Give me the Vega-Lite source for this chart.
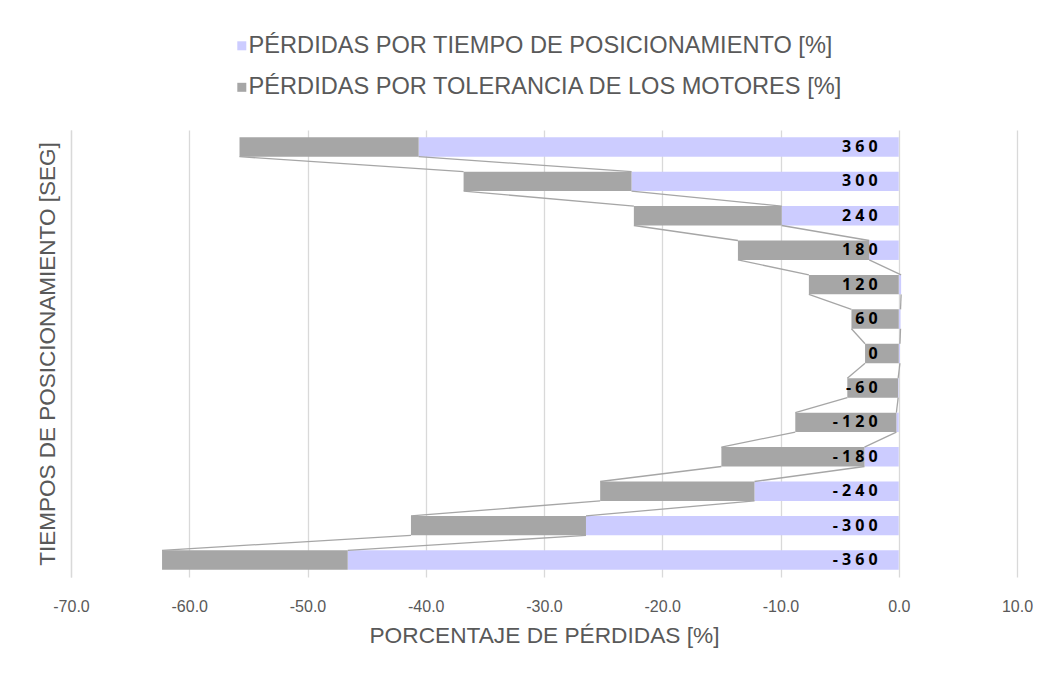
{
  "$schema": "https://vega.github.io/schema/vega-lite/v6.json",
  "width": 946,
  "height": 447,
  "autosize": "none",
  "padding": {"left": 71, "top": 130, "right": 40, "bottom": 102},
  "background": "white",
  "config": {
    "font": "Liberation Sans",
    "view": {"stroke": null},
    "axis": {"titleFontWeight": "normal", "titleColor": "#595959", "labelColor": "#595959"}
  },
  "data": {
    "values": [
      {"t": 360, "serie": "PÉRDIDAS POR TIEMPO DE POSICIONAMIENTO [%]", "v": -40.6},
      {"t": 360, "serie": "PÉRDIDAS POR TOLERANCIA DE LOS MOTORES [%]", "v": -15.15},
      {"t": 300, "serie": "PÉRDIDAS POR TIEMPO DE POSICIONAMIENTO [%]", "v": -22.6},
      {"t": 300, "serie": "PÉRDIDAS POR TOLERANCIA DE LOS MOTORES [%]", "v": -14.2},
      {"t": 240, "serie": "PÉRDIDAS POR TIEMPO DE POSICIONAMIENTO [%]", "v": -9.9},
      {"t": 240, "serie": "PÉRDIDAS POR TOLERANCIA DE LOS MOTORES [%]", "v": -12.5},
      {"t": 180, "serie": "PÉRDIDAS POR TIEMPO DE POSICIONAMIENTO [%]", "v": -2.5},
      {"t": 180, "serie": "PÉRDIDAS POR TOLERANCIA DE LOS MOTORES [%]", "v": -11.1},
      {"t": 120, "serie": "PÉRDIDAS POR TIEMPO DE POSICIONAMIENTO [%]", "v": 0.2},
      {"t": 120, "serie": "PÉRDIDAS POR TOLERANCIA DE LOS MOTORES [%]", "v": -7.6},
      {"t": 60, "serie": "PÉRDIDAS POR TIEMPO DE POSICIONAMIENTO [%]", "v": 0.15},
      {"t": 60, "serie": "PÉRDIDAS POR TOLERANCIA DE LOS MOTORES [%]", "v": -4.0},
      {"t": 0, "serie": "PÉRDIDAS POR TIEMPO DE POSICIONAMIENTO [%]", "v": 0.1},
      {"t": 0, "serie": "PÉRDIDAS POR TOLERANCIA DE LOS MOTORES [%]", "v": -2.85},
      {"t": -60, "serie": "PÉRDIDAS POR TIEMPO DE POSICIONAMIENTO [%]", "v": -0.05},
      {"t": -60, "serie": "PÉRDIDAS POR TOLERANCIA DE LOS MOTORES [%]", "v": -4.3},
      {"t": -120, "serie": "PÉRDIDAS POR TIEMPO DE POSICIONAMIENTO [%]", "v": -0.2},
      {"t": -120, "serie": "PÉRDIDAS POR TOLERANCIA DE LOS MOTORES [%]", "v": -8.55},
      {"t": -180, "serie": "PÉRDIDAS POR TIEMPO DE POSICIONAMIENTO [%]", "v": -2.9},
      {"t": -180, "serie": "PÉRDIDAS POR TOLERANCIA DE LOS MOTORES [%]", "v": -12.1},
      {"t": -240, "serie": "PÉRDIDAS POR TIEMPO DE POSICIONAMIENTO [%]", "v": -12.2},
      {"t": -240, "serie": "PÉRDIDAS POR TOLERANCIA DE LOS MOTORES [%]", "v": -13.05},
      {"t": -300, "serie": "PÉRDIDAS POR TIEMPO DE POSICIONAMIENTO [%]", "v": -26.45},
      {"t": -300, "serie": "PÉRDIDAS POR TOLERANCIA DE LOS MOTORES [%]", "v": -14.8},
      {"t": -360, "serie": "PÉRDIDAS POR TIEMPO DE POSICIONAMIENTO [%]", "v": -46.6},
      {"t": -360, "serie": "PÉRDIDAS POR TOLERANCIA DE LOS MOTORES [%]", "v": -15.7}
    ]
  },
  "transform": [
    {"stack": "v", "groupby": ["t"], "sort": [{"field": "serie", "order": "ascending"}], "as": ["v0", "v1"]},
    {
      "window": [
        {"op": "lead", "field": "v1", "as": "v1_sig"},
        {"op": "lead", "field": "t", "as": "t_sig"}
      ],
      "groupby": ["serie"],
      "sort": [{"field": "t", "order": "descending"}]
    }
  ],
  "encoding": {
    "y": {
      "field": "t",
      "type": "ordinal",
      "scale": {
        "domain": [360, 300, 240, 180, 120, 60, 0, -60, -120, -180, -240, -300, -360],
        "paddingInner": 0.436,
        "paddingOuter": 0.21
      },
      "axis": {
        "labels": false,
        "ticks": false,
        "grid": false,
        "domain": true,
        "domainColor": "#d9d9d9",
        "domainWidth": 1.3,
        "title": "TIEMPOS DE POSICIONAMIENTO [SEG]",
        "titleFontSize": 22.5,
        "titlePadding": 12
      }
    }
  },
  "layer": [
    {
      "mark": {"type": "bar"},
      "encoding": {
        "x": {
          "field": "v0",
          "type": "quantitative",
          "scale": {"domain": [-70, 10], "nice": false, "zero": false},
          "axis": {
            "values": [-70, -60, -50, -40, -30, -20, -10, 0, 10],
            "labelExpr": "replace(format(datum.value, '.1f'), '\u2212', '-')",
            "labelFlush": false,
            "grid": true,
            "gridColor": "#d9d9d9",
            "gridWidth": 1.3,
            "domain": false,
            "ticks": false,
            "labelFontSize": 16,
            "labelPadding": 21,
            "title": "PORCENTAJE DE PÉRDIDAS [%]",
            "titleFontSize": 22.7,
            "titlePadding": 10
          }
        },
        "x2": {"field": "v1"},
        "color": {
          "field": "serie",
          "type": "nominal",
          "scale": {
            "domain": ["PÉRDIDAS POR TIEMPO DE POSICIONAMIENTO [%]", "PÉRDIDAS POR TOLERANCIA DE LOS MOTORES [%]"],
            "range": ["#ccccff", "#a6a6a6"]
          },
          "legend": {
            "title": null,
            "orient": "none",
            "legendX": 159,
            "legendY": -96,
            "direction": "vertical",
            "symbolType": "square",
            "symbolSize": 81,
            "symbolStrokeWidth": 0,
            "labelFontSize": 23.6,
            "labelColor": "#595959",
            "labelOffset": -5,
            "labelLimit": 0,
            "rowPadding": 16.5,
            "padding": 0
          }
        }
      }
    },
    {
      "transform": [{"filter": "isValid(datum.v1_sig)"}],
      "mark": {"type": "rule", "color": "#a6a6a6", "strokeWidth": 1.3},
      "encoding": {
        "y": {"field": "t", "type": "ordinal", "bandPosition": 1},
        "y2": {"field": "t_sig", "bandPosition": 0},
        "x": {"field": "v1", "type": "quantitative"},
        "x2": {"field": "v1_sig"}
      }
    },
    {
      "transform": [
        {"filter": "datum.serie === 'PÉRDIDAS POR TIEMPO DE POSICIONAMIENTO [%]'"},
        {"calculate": "join(split(toString(datum.t), ''), ' ')", "as": "etiqueta"}
      ],
      "mark": {
        "type": "text",
        "align": "right",
        "baseline": "middle",
        "dx": -21,
        "font": "Open Sans",
        "fontWeight": "bold",
        "fontSize": 16,
        "color": "#000000"
      },
      "encoding": {
        "x": {"datum": 0, "type": "quantitative"},
        "text": {"field": "etiqueta"}
      }
    }
  ]
}
